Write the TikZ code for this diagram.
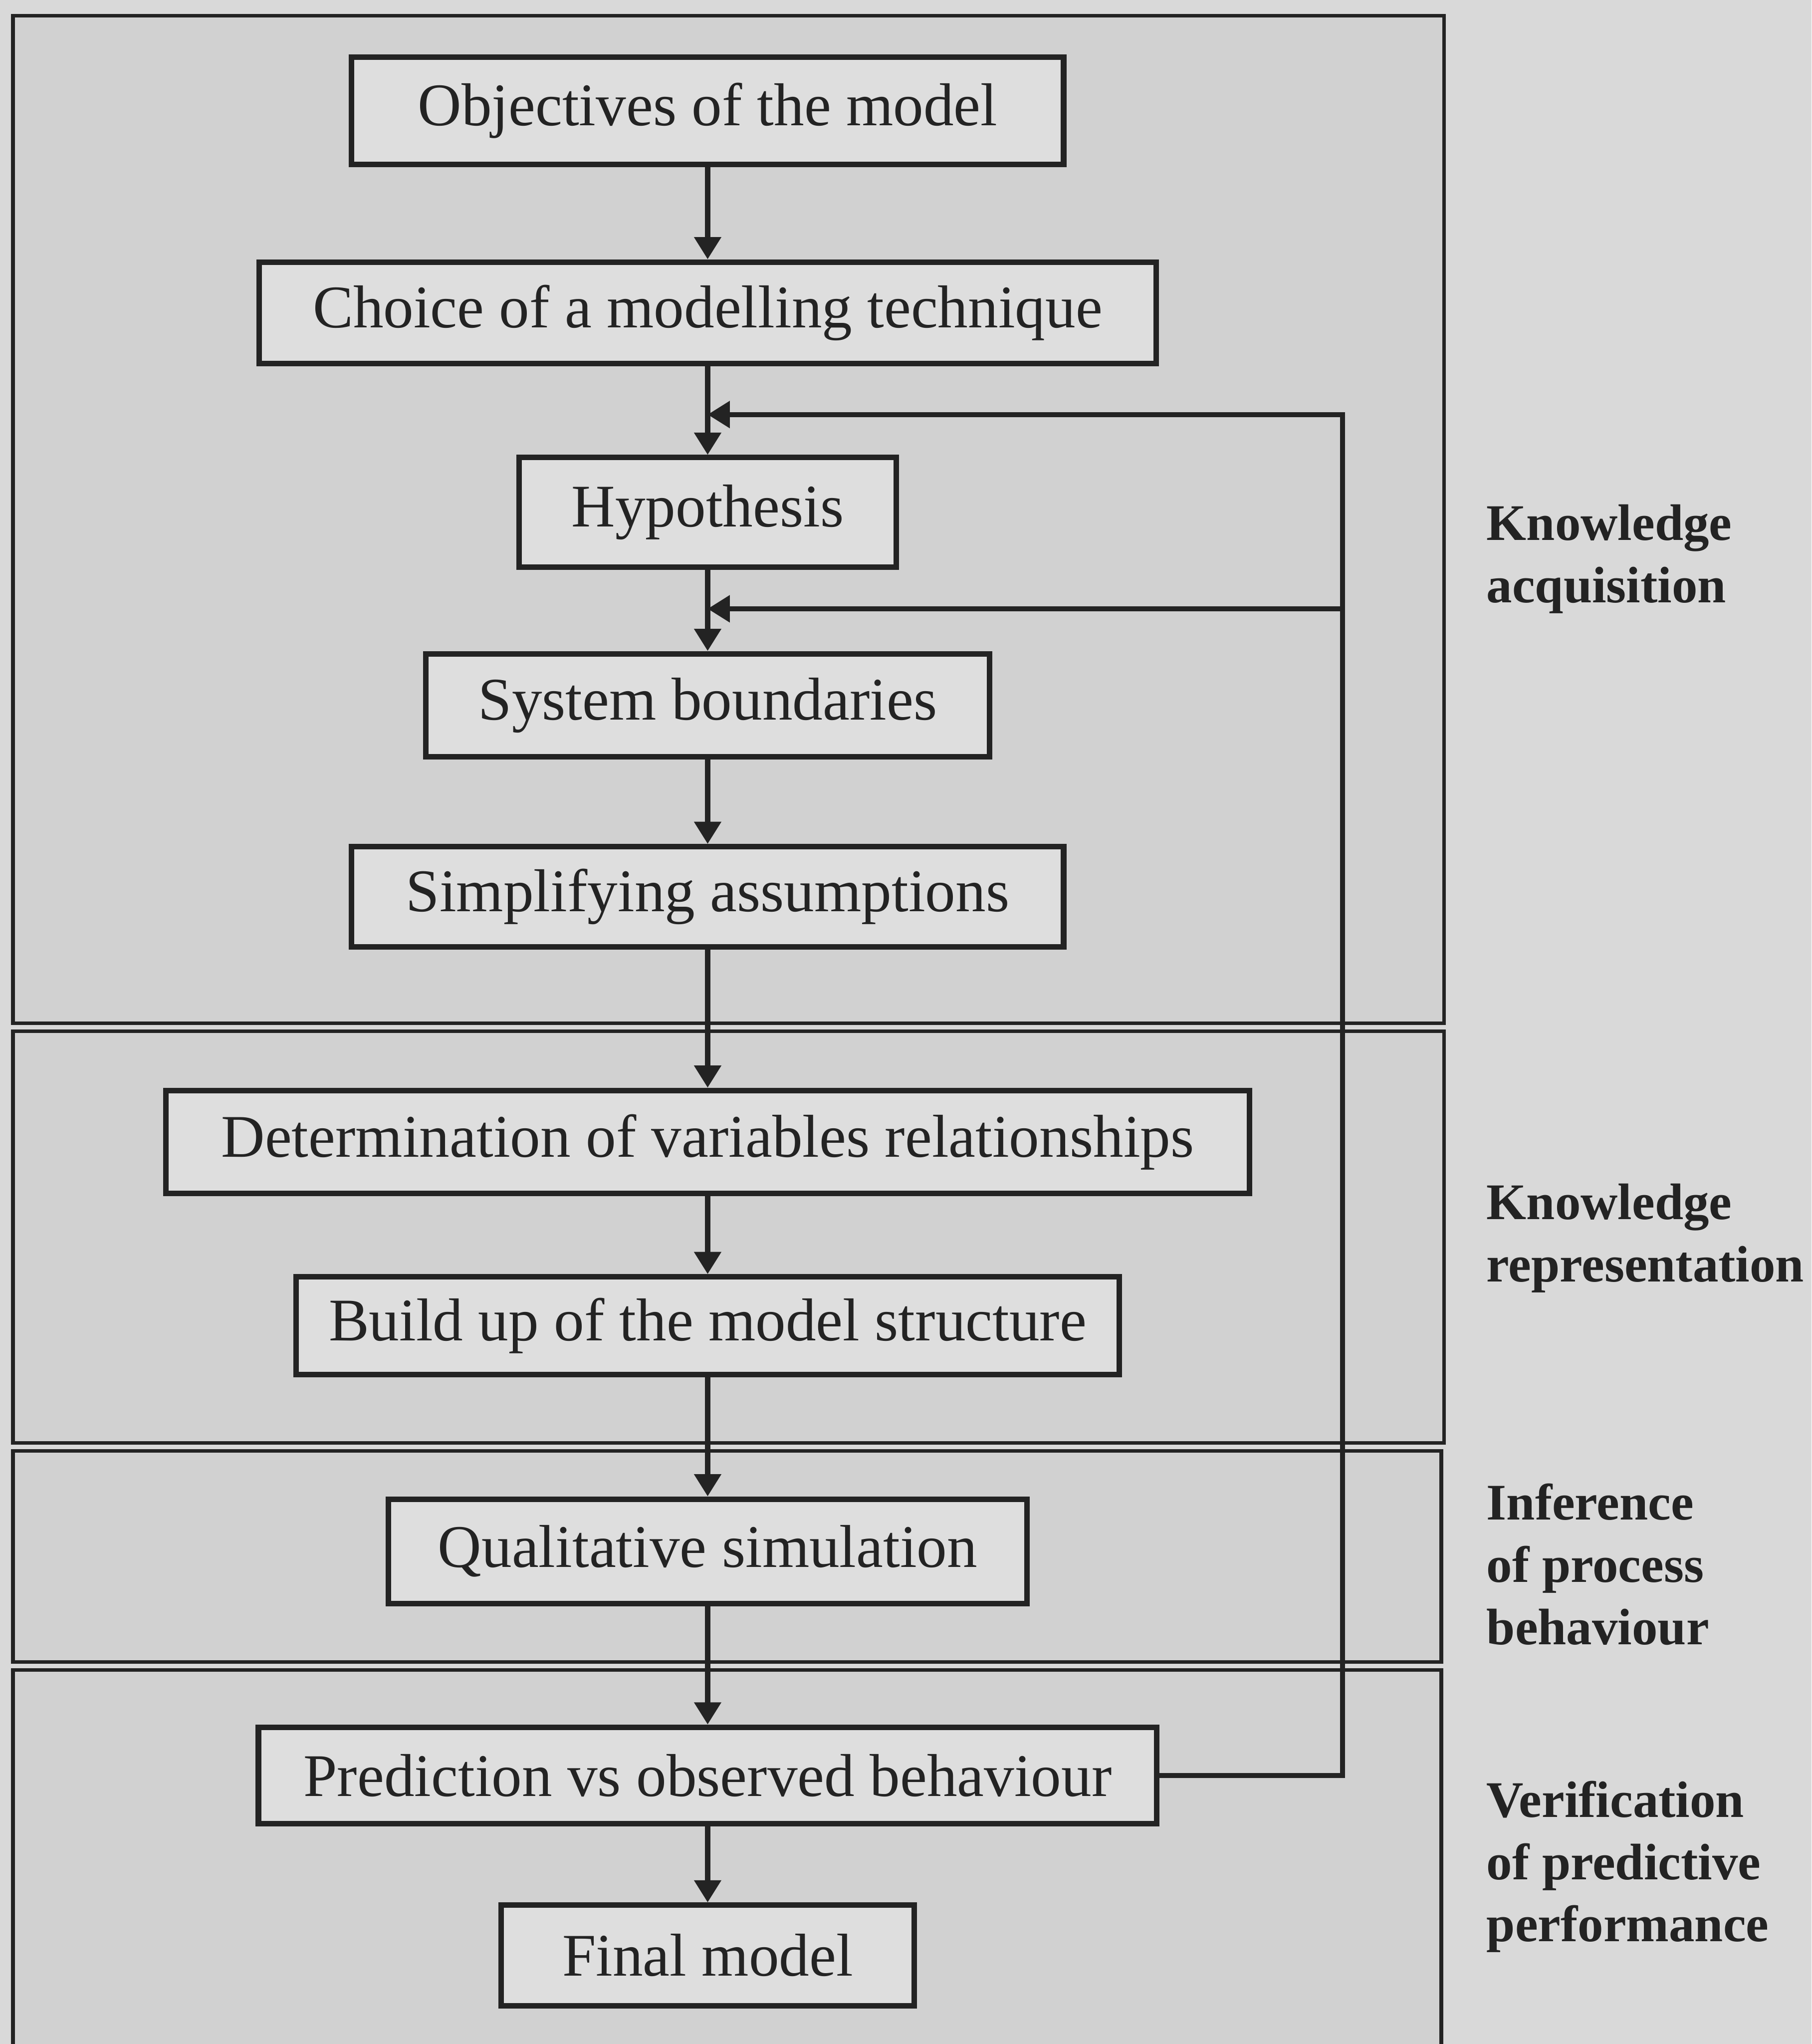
\documentclass[tikz,border=0pt]{standalone}
\usepackage{fontspec}
\setmainfont{Liberation Serif}
\usetikzlibrary{arrows.meta}
\definecolor{bggray}{RGB}{217,217,217}
\definecolor{panelgray}{RGB}{209,209,209}
\definecolor{boxgray}{RGB}{222,222,222}
\definecolor{ink}{RGB}{35,35,35}
\begin{document}
\begin{tikzpicture}[x=0.01cm,y=-0.01cm,
  stepbox/.style={draw=ink, line width=1.2pt, fill=boxgray, inner sep=0pt,
    text=ink, font=\fontsize{13.2}{15}\selectfont},
  panel/.style={draw=ink, line width=0.8pt, fill=panelgray},
  flow/.style={line width=1.1pt, draw=ink, -{Triangle[length=1.7mm,width=2mm]}},
  loopline/.style={line width=1.1pt, draw=ink},
  phase/.style={anchor=west, align=left, inner sep=0pt, text=ink,
    font=\fontsize{11.2}{13.6}\selectfont\bfseries}]

% page
\fill[bggray] (0,0) rectangle (1390,1568);
\useasboundingbox (0,0) rectangle (1390,1568);

% phase panels
\draw[panel] (10,12) rectangle (1108,785);
\draw[panel] (10,791) rectangle (1108,1107);
\draw[panel] (10,1113) rectangle (1106,1275);
\draw[panel] (10,1281) rectangle (1106,1580);

% steps
\node[stepbox, minimum width=5.46cm, minimum height=0.82cm] (obj)    at (543,85)   {Objectives of the model};
\node[stepbox, minimum width=6.88cm, minimum height=0.78cm] (choice) at (543,240)  {Choice of a modelling technique};
\node[stepbox, minimum width=2.89cm, minimum height=0.84cm] (hyp)    at (543,393)  {Hypothesis};
\node[stepbox, minimum width=4.32cm, minimum height=0.79cm] (bound)  at (543,541)  {System boundaries};
\node[stepbox, minimum width=5.46cm, minimum height=0.77cm] (simp)   at (543,688)  {Simplifying assumptions};
\node[stepbox, minimum width=8.31cm, minimum height=0.79cm] (det)    at (543,876)  {Determination of variables relationships};
\node[stepbox, minimum width=6.31cm, minimum height=0.75cm] (build)  at (543,1017) {Build up of the model structure};
\node[stepbox, minimum width=4.90cm, minimum height=0.80cm] (qual)   at (543,1190) {Qualitative simulation};
\node[stepbox, minimum width=6.89cm, minimum height=0.74cm] (pred)   at (543,1362) {Prediction vs observed behaviour};
\node[stepbox, minimum width=3.17cm, minimum height=0.77cm] (final)  at (543,1500) {Final model};

% main flow
\draw[flow] (obj) -- (choice);
\draw[flow] (choice) -- (hyp);
\draw[flow] (hyp) -- (bound);
\draw[flow] (bound) -- (simp);
\draw[flow] (simp) -- (det);
\draw[flow] (det) -- (build);
\draw[flow] (build) -- (qual);
\draw[flow] (qual) -- (pred);
\draw[flow] (pred) -- (final);

% feedback loop
\coordinate (fbtop) at (1030,318);
\coordinate (fbmid) at (1030,467);
\coordinate (in1) at (543,318);
\coordinate (in2) at (543,467);
\draw[flow] (pred.east) -| (fbtop) -- (in1);
\draw[flow] (fbmid) -- (in2);

% phase labels
\node[phase] (ka) at (1140,429)  {Knowledge\\acquisition};
\node[phase] (kr) at (1140,950)  {Knowledge\\representation};
\node[phase] (ip) at (1140,1200) {Inference\\of process\\behaviour};
\node[phase] (vp) at (1140,1432) {Verification\\of predictive\\performance};
\end{tikzpicture}
\end{document}
